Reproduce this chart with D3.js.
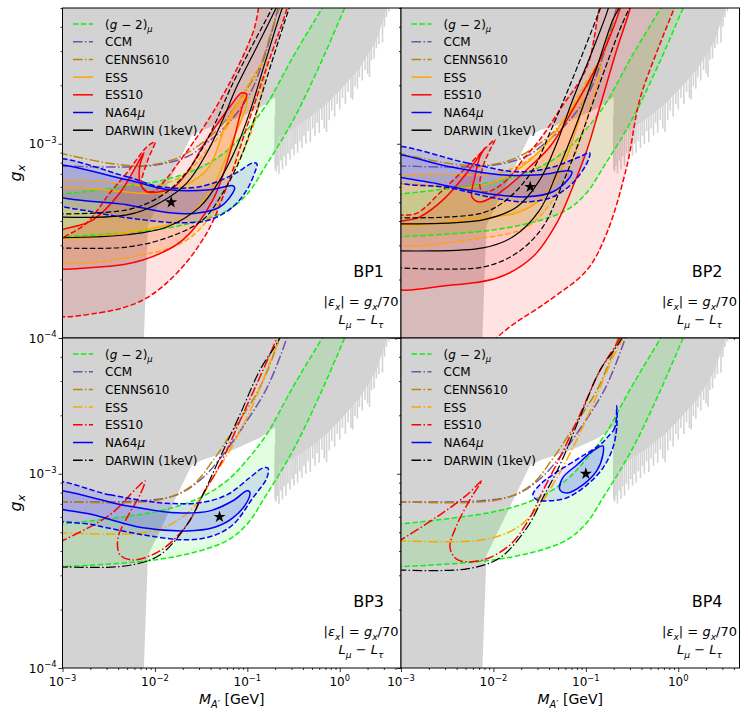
<!DOCTYPE html>
<html>
<head>
<meta charset="utf-8">
<script src="https://cdn.jsdelivr.net/npm/d3@7"></script>
<style>
  body { margin: 0; background: #fff; }
  text { font-family: "DejaVu Sans", sans-serif; fill: #000; }
</style>
</head>
<body>
<svg id="chart" width="748" height="716"></svg>
<script>
// ---- axis settings ----
const xDomain = [1e-3, 4.6];
const yDomain = [1e-4, 5e-3];
const xTickValues = [1e-3, 1e-2, 1e-1, 1];
const xTickExps = ["\u22123", "\u22122", "\u22121", "0"];
const yTickValues = [1e-4, 1e-3];
const yTickExps = ["\u22124", "\u22123"];

// ---- excluded region (grey), same in every panel: [mass GeV, g_x] ----
const bgWhiteEdge = [[7.4e-3, 8e-5], [7.6e-3, 1e-4], [8.4e-3, 3.8e-4], [0.025, 1.11e-3], [0.033, 1.18e-3],
  [0.069, 1.32e-3], [0.136, 1.53e-3], [0.197, 1.73e-3]];
// solid part of the right-hand excluded region, lower envelope
const bgRightBase = [[0.2, 1.08e-3], [0.3, 1.18e-3], [0.47, 1.36e-3], [0.72, 1.6e-3], [1.07, 1.95e-3],
  [1.63, 2.45e-3], [2.49, 3.4e-3], [3.2, 4.9e-3], [3.6, 5.3e-3]];
// downward spikes of that region: [mass, lowest g]
const bgSpikes = [[0.201, 7.4e-4], [0.205, 7.2e-4], [0.212, 7.7e-4], [0.22, 7.0e-4], [0.23, 8.2e-4],
  [0.24, 7.4e-4], [0.25, 8.6e-4], [0.262, 7.7e-4], [0.275, 8.9e-4], [0.29, 8.3e-4], [0.305, 9.4e-4],
  [0.32, 8.7e-4], [0.335, 1.0e-3], [0.35, 9.0e-4], [0.37, 1.03e-3], [0.39, 9.5e-4], [0.41, 1.1e-3],
  [0.43, 1.0e-3], [0.455, 1.16e-3], [0.48, 1.02e-3], [0.51, 1.2e-3], [0.54, 1.1e-3], [0.57, 1.28e-3],
  [0.6, 1.14e-3], [0.64, 1.33e-3], [0.68, 1.2e-3], [0.72, 1.15e-3], [0.77, 1.32e-3], [0.82, 1.48e-3],
  [0.88, 1.38e-3], [0.94, 1.6e-3], [1.0, 1.5e-3], [1.07, 1.72e-3], [1.15, 1.6e-3], [1.23, 1.84e-3],
  [1.32, 1.72e-3], [1.38, 1.69e-3], [1.46, 1.98e-3], [1.55, 1.92e-3], [1.63, 2.2e-3], [1.75, 2.12e-3],
  [1.88, 2.4e-3], [2.0, 2.3e-3], [2.1, 2.21e-3], [2.2, 2.7e-3], [2.35, 2.75e-3], [2.49, 3.1e-3],
  [2.65, 3.25e-3], [2.9, 3.32e-3], [3.05, 4.0e-3], [3.2, 4.5e-3], [3.4, 4.8e-3]];

// ---- (g-2)_mu band ----
const gm2Upper = [[9e-4, 5.5e-4], [1e-3, 5.52e-4], [0.0113, 6.44e-4], [0.0305, 7.52e-4], [0.06, 9.2e-4],
  [0.098, 1.17e-3], [0.161, 1.59e-3], [0.308, 2.77e-3], [0.65, 5.02e-3], [0.9, 6.5e-3]];
const gm2Lower = [[9e-4, 3.31e-4], [1e-3, 3.32e-4], [0.0082, 3.56e-4], [0.0256, 3.92e-4], [0.06, 4.52e-4],
  [0.098, 5.46e-4], [0.161, 7.8e-4], [0.31, 1.31e-3], [0.61, 2.55e-3], [1.13, 5.0e-3], [1.6, 7.3e-3]];

// ---- CCM / CENNS610 ----
const ccmA = [[9e-4, 7.7e-4], [0.0088, 7.7e-4], [0.0222, 8.57e-4], [0.0365, 1.01e-3], [0.06, 1.25e-3],
  [0.106, 1.8e-3], [0.16, 3.0e-3], [0.215, 5.0e-3], [0.24, 6.2e-3]];
const cennsA = [[9e-4, 8.95e-4], [1e-3, 8.88e-4], [3.03e-3, 7.97e-4], [6.89e-3, 7.7e-4], [0.0157, 8.27e-4],
  [0.0284, 9.65e-4], [0.0505, 1.22e-3], [0.083, 1.69e-3], [0.136, 2.49e-3], [0.189, 4.01e-3],
  [0.224, 5.08e-3], [0.25, 6.2e-3]];
const ccmB = [[9e-4, 7.17e-4], [7.42e-3, 7.26e-4], [0.0173, 7.79e-4], [0.033, 9.54e-4], [0.0543, 1.25e-3],
  [0.0988, 1.87e-3], [0.163, 2.77e-3], [0.267, 5.0e-3], [0.3, 6.2e-3]];
const cennsB = [[9e-4, 7.2e-4], [0.0113, 7.34e-4], [0.0258, 8.77e-4], [0.0424, 1.17e-3], [0.0769, 1.79e-3],
  [0.136, 2.77e-3], [0.224, 5.0e-3], [0.26, 6.2e-3]];

// ---- BP1 ----
const bp1EssSolid = [[7e-4, 5.59e-4], [0.0135, 5.66e-4], [0.0365, 7.34e-4], [0.057, 1.21e-3], [0.083, 1.69e-3],
  [0.099, 1.75e-3], [0.097, 1.55e-3], [0.0697, 1.05e-3], [0.0424, 6.01e-4], [0.0222, 4.2e-4],
  [0.0074, 3.6e-4], [7e-4, 3.48e-4]];
const bp1EssDashed = [[7e-4, 6.01e-4], [0.0113, 6.15e-4], [0.0222, 7.09e-4], [0.0365, 9.3e-4], [0.06, 1.22e-3],
  [0.083, 1.69e-3], [0.136, 2.49e-3], [0.167, 2.75e-3], [0.163, 2.55e-3], [0.115, 1.22e-3],
  [0.0697, 7.09e-4], [0.0424, 4.41e-4], [0.0222, 3.2e-4], [0.0074, 2.68e-4], [7e-4, 2.62e-4]];
const bp1Ess10Solid = [[7e-4, 2.38e-4], [2.54e-3, 2.32e-4], [7.42e-3, 2.52e-4], [0.0201, 3.2e-4],
  [0.0424, 5.14e-4], [0.0697, 1.01e-3], [0.0894, 1.59e-3], [0.0988, 1.79e-3], [0.0873, 1.83e-3],
  [0.0647, 1.55e-3], [0.0365, 1.05e-3], [0.0222, 7.09e-4], [0.0157, 5.93e-4], [0.0113, 5.66e-4],
  [8.2e-3, 5.66e-4], [6.9e-3, 6.36e-4], [6.9e-3, 7.79e-4], [7.6e-3, 9.0e-4], [6.2e-3, 7.6e-4],
  [4.19e-3, 5.59e-4], [2.14e-3, 4.06e-4], [7e-4, 3.3e-4]];
const bp1Ess10Dashed = [[7e-4, 1.36e-4], [2.54e-3, 1.35e-4], [7.42e-3, 1.57e-4], [0.0173, 2.16e-4],
  [0.0365, 3.48e-4], [0.06, 6.01e-4], [0.0988, 1.22e-3], [0.163, 2.49e-3], [0.267, 4.91e-3], [0.33, 7e-3],
  [0.17, 7e-3], [0.115, 3.73e-3], [0.0697, 2.21e-3], [0.0424, 1.45e-3], [0.0258, 1.01e-3],
  [0.0173, 7.79e-4], [0.0122, 6.29e-4], [9.3e-3, 5.66e-4], [7.2e-3, 6.01e-4], [8.4e-3, 8.27e-4],
  [0.01, 1.02e-3], [8.2e-3, 9.65e-4], [4.98e-3, 7.09e-4], [3.26e-3, 5.59e-4], [1.84e-3, 3.92e-4],
  [7e-4, 2.8e-4]];
const bp1Na64Dashed = [[7e-4, 8.2e-4], [4.98e-3, 6.76e-4], [0.0113, 6.01e-4], [0.0306, 6.01e-4],
  [0.0697, 6.92e-4], [0.115, 7.97e-4], [0.127, 7.88e-4], [0.12, 7.09e-4], [0.0988, 5.79e-4],
  [0.0697, 4.73e-4], [0.0393, 4.06e-4], [0.0201, 3.92e-4], [7.42e-3, 4.06e-4], [2.14e-3, 4.46e-4],
  [7e-4, 5.2e-4]];
const bp1Na64Solid = [[7e-4, 7.6e-4], [4.98e-3, 6.52e-4], [0.0145, 5.79e-4], [0.0393, 5.79e-4],
  [0.0697, 6.08e-4], [0.073, 5.93e-4], [0.0697, 5.59e-4], [0.0505, 4.73e-4], [0.0306, 4.41e-4],
  [0.0145, 4.41e-4], [4.98e-3, 4.85e-4], [7e-4, 5.7e-4]];
const bp1DarwinSolid = [
  [[9e-4, 4.2e-4], [4.98e-3, 4.3e-4], [0.0113, 4.97e-4], [0.0222, 6.29e-4], [0.0365, 8.99e-4],
    [0.0543, 1.33e-3], [0.0769, 1.97e-3], [0.127, 3.16e-3], [0.208, 5.08e-3], [0.25, 6.2e-3]],
  [[9e-4, 3.28e-4], [4.98e-3, 3.4e-4], [0.0135, 3.73e-4], [0.0306, 4.73e-4], [0.0505, 6.52e-4],
    [0.0769, 9.65e-4], [0.106, 1.45e-3], [0.159, 2.71e-3], [0.242, 5.08e-3], [0.29, 6.2e-3]]];
const bp1DarwinDashed = [
  [[9e-4, 4.35e-4], [4.98e-3, 4.57e-4], [0.0113, 5.33e-4], [0.0201, 6.76e-4], [0.0306, 8.99e-4],
    [0.0468, 1.33e-3], [0.0647, 1.9e-3], [0.109, 3.1e-3], [0.189, 5.08e-3], [0.23, 6.2e-3]],
  [[9e-4, 2.91e-4], [4.98e-3, 2.94e-4], [0.0145, 3.32e-4], [0.033, 4.06e-4], [0.0543, 5.59e-4],
    [0.083, 8.27e-4], [0.115, 1.28e-3], [0.18, 2.55e-3], [0.288, 5.08e-3], [0.34, 6.2e-3]]];

// ---- BP2 ----
const bp2EssSolid = [[7e-4, 5.93e-4], [5.17e-3, 5.93e-4], [0.0117, 6.52e-4], [0.023, 7.97e-4], [0.0408, 1.05e-3],
  [0.0723, 1.55e-3], [0.09, 1.75e-3], [0.093, 1.65e-3], [0.0723, 1.05e-3], [0.0524, 7.09e-4],
  [0.0318, 5.14e-4], [0.0179, 4.41e-4], [7.7e-3, 4.16e-4], [7e-4, 4.06e-4]];
const bp2EssDashed = [[7e-4, 6.29e-4], [0.0117, 7.09e-4], [0.0267, 8.57e-4], [0.0524, 1.22e-3], [0.0861, 1.83e-3],
  [0.132, 2.55e-3], [0.142, 2.62e-3], [0.145, 2.45e-3], [0.11, 1.5e-3], [0.0723, 8.27e-4], [0.044, 5.14e-4],
  [0.023, 3.73e-4], [7.7e-3, 3.28e-4], [7e-4, 3.2e-4]];
const bp2Ess10Solid = [[7e-4, 1.87e-4], [3.39e-3, 1.87e-4], [0.0117, 2.06e-4], [0.0267, 2.62e-4],
  [0.0486, 3.92e-4], [0.0723, 6.01e-4], [0.103, 9.31e-4], [0.142, 1.55e-3], [0.216, 3.05e-3],
  [0.299, 4.91e-3], [0.34, 6.5e-3], [0.27, 6.5e-3], [0.233, 4.91e-3], [0.142, 2.71e-3], [0.0723, 1.5e-3],
  [0.0408, 9.65e-4], [0.0248, 7.61e-4], [0.0151, 6.15e-4], [9.9e-3, 5.33e-4], [7.15e-3, 5.02e-4],
  [5.86e-3, 5.33e-4], [6.31e-3, 6.76e-4], [7.15e-3, 8.57e-4], [8.1e-3, 9.54e-4], [5.17e-3, 7.09e-4],
  [2.85e-3, 5.14e-4], [1.6e-3, 4.2e-4], [7e-4, 3.7e-4]];
const bp2Ess10Dashed = [[7e-4, 4.0e-4], [7e-4, 4e-5], [3.8e-3, 6e-5], [0.0127, 1.07e-4], [0.0408, 1.57e-4],
  [0.103, 2.24e-4], [0.169, 3.48e-4], [0.277, 7.61e-4], [0.384, 1.69e-3], [0.63, 3.24e-3], [0.92, 5.1e-3],
  [1.1, 6.5e-3], [0.17, 6.5e-3], [0.142, 5.1e-3], [0.103, 2.49e-3], [0.0524, 1.5e-3], [0.0318, 1.05e-3],
  [0.0208, 8.27e-4], [0.0151, 6.76e-4], [9.9e-3, 5.79e-4], [7.7e-3, 5.66e-4], [7.15e-3, 6.01e-4],
  [7.7e-3, 7.61e-4], [9.2e-3, 9.31e-4], [0.0104, 1.05e-3], [8.5e-3, 9.65e-4], [5.17e-3, 7.61e-4],
  [2.64e-3, 5.59e-4], [1.51e-3, 4.41e-4]];
const bp2Na64Dashed = [[7e-4, 9.5e-4], [5.17e-3, 7.97e-4], [0.0179, 7.17e-4], [0.0408, 7.52e-4],
  [0.0861, 8.57e-4], [0.11, 8.99e-4], [0.103, 7.97e-4], [0.0723, 6.29e-4], [0.044, 5.33e-4],
  [0.023, 5.02e-4], [9.9e-3, 5.27e-4], [3.39e-3, 5.93e-4], [7e-4, 6.7e-4]];
const bp2Na64Solid = [[7e-4, 8.7e-4], [3.39e-3, 7.61e-4], [0.0117, 6.92e-4], [0.0318, 6.92e-4],
  [0.0623, 7.26e-4], [0.0706, 7.17e-4], [0.0639, 6.52e-4], [0.044, 5.66e-4], [0.023, 5.33e-4],
  [7.7e-3, 5.59e-4], [2.22e-3, 6.29e-4], [7e-4, 7.2e-4]];
const bp2DarwinSolid = [
  [[9e-4, 3.87e-4], [7.7e-3, 4.06e-4], [0.0179, 4.73e-4], [0.0318, 6.52e-4], [0.0486, 1.01e-3],
    [0.0723, 1.69e-3], [0.119, 3.05e-3], [0.169, 4.73e-3], [0.2, 6.2e-3]],
  [[9e-4, 2.81e-4], [7.7e-3, 2.91e-4], [0.0163, 3.32e-4], [0.0318, 4.57e-4], [0.0486, 7.09e-4],
    [0.08, 1.28e-3], [0.132, 2.49e-3], [0.196, 4.35e-3], [0.233, 5.08e-3], [0.27, 6.2e-3]]];
const bp2DarwinDashed = [
  [[9e-4, 4.16e-4], [7.7e-3, 4.41e-4], [0.0151, 5.33e-4], [0.0267, 7.34e-4], [0.0408, 1.14e-3],
    [0.0623, 1.83e-3], [0.103, 3.32e-3], [0.142, 4.91e-3], [0.17, 6.2e-3]],
  [[9e-4, 2.3e-4], [7.7e-3, 2.32e-4], [0.0179, 2.74e-4], [0.0343, 3.73e-4], [0.0564, 6.29e-4],
    [0.0861, 1.05e-3], [0.142, 2.06e-3], [0.233, 3.87e-3], [0.299, 5.08e-3], [0.35, 6.2e-3]]];

// ---- BP3 ----
const bp3Ess = [[9e-4, 4.97e-4], [7.42e-3, 4.97e-4], [0.0145, 5.46e-4], [0.0258, 6.68e-4], [0.0424, 9.54e-4],
  [0.0697, 1.41e-3], [0.115, 2.27e-3], [0.189, 4.1e-3], [0.224, 5e-3], [0.25, 6.2e-3]];
const bp3Ess10 = [[9e-4, 4.4e-4], [1e-3, 4.52e-4], [3.26e-3, 6.15e-4], [6.38e-3, 8.47e-4], [7.8e-3, 9.2e-4],
  [6.89e-3, 7.79e-4], [4.98e-3, 5.93e-4], [3.98e-3, 4.68e-4], [4.19e-3, 3.82e-4], [5.78e-3, 3.6e-4],
  [0.0113, 4.01e-4], [0.0222, 5.46e-4], [0.033, 7.79e-4], [0.0505, 1.11e-3], [0.083, 1.87e-3],
  [0.136, 3.13e-3], [0.208, 5e-3], [0.24, 6.2e-3]];
const bp3Darwin = [[9e-4, 3.32e-4], [4.98e-3, 3.36e-4], [0.0113, 3.82e-4], [0.0222, 5.46e-4], [0.033, 7.79e-4],
  [0.0505, 1.21e-3], [0.083, 2.01e-3], [0.136, 3.4e-3], [0.224, 5e-3], [0.26, 6.2e-3]];
const bp3Na64Dashed = [[7e-4, 9.0e-4], [3.26e-3, 7.79e-4], [0.0113, 7.09e-4], [0.0306, 7.09e-4], [0.06, 7.79e-4],
  [0.106, 9.54e-4], [0.147, 1.07e-3], [0.167, 1.07e-3], [0.163, 9.54e-4], [0.115, 7.52e-4],
  [0.0697, 5.46e-4], [0.0424, 4.79e-4], [0.0222, 4.57e-4], [7.42e-3, 4.85e-4], [2.14e-3, 5.46e-4],
  [7e-4, 6.1e-4]];
const bp3Na64Solid = [[7e-4, 8.1e-4], [4.98e-3, 6.84e-4], [0.0173, 6.29e-4], [0.0393, 6.44e-4], [0.0697, 7.26e-4],
  [0.0988, 8.17e-4], [0.106, 8.07e-4], [0.101, 7.26e-4], [0.0697, 5.93e-4], [0.0424, 5.27e-4],
  [0.0222, 5.08e-4], [7.42e-3, 5.27e-4], [2.14e-3, 6.15e-4], [7e-4, 7.0e-4]];

// ---- BP4 ----
const bp4Ess = [[9e-4, 4.52e-4], [7.7e-3, 4.57e-4], [0.0179, 5.27e-4], [0.0318, 6.92e-4], [0.0486, 9.54e-4],
  [0.0723, 1.36e-3], [0.119, 2.27e-3], [0.196, 3.96e-3], [0.251, 5e-3], [0.28, 6.2e-3]];
const bp4Ess10 = [[9e-4, 4.45e-4], [1e-3, 4.57e-4], [2.64e-3, 6.15e-4], [5.17e-3, 7.79e-4], [7.51e-3, 9.2e-4],
  [6.0e-3, 7.79e-4], [4.03e-3, 5.46e-4], [3.39e-3, 4.16e-4], [4.13e-3, 3.6e-4], [7.7e-3, 3.6e-4],
  [0.0151, 4.3e-4], [0.0248, 5.93e-4], [0.0343, 8.17e-4], [0.0524, 1.21e-3], [0.0861, 2.01e-3],
  [0.142, 3.4e-3], [0.233, 5e-3], [0.27, 6.2e-3]];
const bp4Darwin = [[9e-4, 3.2e-4], [5.17e-3, 3.24e-4], [0.0117, 3.69e-4], [0.023, 5.27e-4], [0.0343, 7.52e-4],
  [0.0524, 1.11e-3], [0.0861, 1.95e-3], [0.142, 3.4e-3], [0.245, 5e-3], [0.28, 6.2e-3]];
const bp4Na64Dashed = [[0.216, 2.24e-3], [0.206, 1.73e-3], [0.169, 1.53e-3], [0.142, 1.41e-3], [0.0861, 1.21e-3],
  [0.044, 9.9e-4], [0.0318, 8.77e-4], [0.0267, 7.79e-4], [0.0295, 7.34e-4], [0.0408, 7.26e-4],
  [0.0623, 7.52e-4], [0.103, 8.77e-4], [0.153, 1.07e-3], [0.196, 1.36e-3], [0.216, 1.73e-3]];
const bp4Na64Solid = [[0.153, 1.39e-3], [0.119, 1.31e-3], [0.08, 1.11e-3], [0.0564, 9.54e-4], [0.0524, 8.27e-4],
  [0.0623, 7.97e-4], [0.0929, 8.77e-4], [0.132, 1.04e-3], [0.153, 1.25e-3]];

// benchmark points
const bpStars = [[0.015, 5e-4], [0.025, 6e-4], [0.05, 6e-4], [0.1, 1e-3]];
const bpLabels = ["BP1", "BP2", "BP3", "BP4"];

// ---- styles ----
const COLORS = { gm2: "#11ee11", ccm: "#7750a8", cenns: "#b8860b", ess: "#ffa500",
  ess10: "#ff0000", na64: "#0000ff", darwin: "#000000" };
const GREY = "#d3d3d3";
const DASH = "5.5,2.4";
const DASHDOT = "9.6,2.4,1.5,2.4";

// ---- layout ----
const pw = 338.5, ph = 330;
const panels = [
  { left: 62.5, top: 8, mode: "fit", ccm: ccmA, cenns: cennsA,
    essSolid: bp1EssSolid, essDashed: bp1EssDashed, ess10Solid: bp1Ess10Solid, ess10Dashed: bp1Ess10Dashed,
    na64Solid: bp1Na64Solid, na64Dashed: bp1Na64Dashed, darwinSolid: bp1DarwinSolid, darwinDashed: bp1DarwinDashed },
  { left: 401, top: 8, mode: "fit", ccm: ccmA, cenns: cennsA,
    essSolid: bp2EssSolid, essDashed: bp2EssDashed, ess10Solid: bp2Ess10Solid, ess10Dashed: bp2Ess10Dashed,
    na64Solid: bp2Na64Solid, na64Dashed: bp2Na64Dashed, darwinSolid: bp2DarwinSolid, darwinDashed: bp2DarwinDashed },
  { left: 62.5, top: 338, mode: "proj", ccm: ccmB, cenns: cennsB,
    ess: bp3Ess, ess10: bp3Ess10, darwin: bp3Darwin, na64Solid: bp3Na64Solid, na64Dashed: bp3Na64Dashed },
  { left: 401, top: 338, mode: "proj", ccm: ccmB, cenns: cennsB,
    ess: bp4Ess, ess10: bp4Ess10, darwin: bp4Darwin, na64Solid: bp4Na64Solid, na64Dashed: bp4Na64Dashed }
];

const x = d3.scaleLog().domain(xDomain).range([0, pw]);
const y = d3.scaleLog().domain(yDomain).range([ph, 0]);

const lineOpen = d3.line().x(d => x(d[0])).y(d => y(d[1])).curve(d3.curveCatmullRom.alpha(0.5));
const lineClosed = d3.line().x(d => x(d[0])).y(d => y(d[1])).curve(d3.curveCatmullRomClosed.alpha(0.5));
const lineLinear = d3.line().x(d => x(d[0])).y(d => y(d[1]));

const svg = d3.select("#chart");
const defs = svg.append("defs");

// text with italic / subscript / superscript pieces
function rich(textSel, parts, size) {
  let shift = 0;
  parts.forEach(pt => {
    const ts = textSel.append("tspan").text(pt.t);
    if (pt.i) ts.attr("font-style", "italic");
    const target = pt.sub ? size * 0.28 : pt.sup ? -size * 0.42 : 0;
    if (target !== shift) {
      ts.attr("dy", target - shift);
      shift = target;
    }
    if (pt.sub || pt.sup) ts.attr("font-size", size * 0.7);
  });
}

const legendItems = [
  { key: "gm2", parts: [{ t: "(" }, { t: "g", i: 1 }, { t: " \u2212 2)" }, { t: "\u03bc", i: 1, sub: 1 }] },
  { key: "ccm", parts: [{ t: "CCM" }] },
  { key: "cenns", parts: [{ t: "CENNS610" }] },
  { key: "ess", parts: [{ t: "ESS" }] },
  { key: "ess10", parts: [{ t: "ESS10" }] },
  { key: "na64", parts: [{ t: "NA64" }, { t: "\u03bc", i: 1 }] },
  { key: "darwin", parts: [{ t: "DARWIN (1keV)" }] }
];
const legendDash = {
  fit: { gm2: DASH, ccm: DASHDOT, cenns: DASHDOT, ess: null, ess10: null, na64: null, darwin: null },
  proj: { gm2: DASH, ccm: DASHDOT, cenns: DASHDOT, ess: DASHDOT, ess10: DASHDOT, na64: null, darwin: DASHDOT }
};

function stroke(sel, color, dash) {
  sel.attr("fill", "none").attr("stroke", color).attr("stroke-width", 1.5);
  if (dash) sel.attr("stroke-dasharray", dash);
  return sel;
}

panels.forEach((p, i) => {
  const g = svg.append("g").attr("transform", `translate(${p.left},${p.top})`);
  defs.append("clipPath").attr("id", "clip" + i)
    .append("rect").attr("width", pw).attr("height", ph);
  const plot = g.append("g").attr("clip-path", `url(#clip${i})`);

  // grey excluded region with its spiky lower edge
  const bg = [[5e-4, 8e-3], [5e-4, 8e-5], ...bgWhiteEdge, [0.2, 1.73e-3], ...bgRightBase, [3.6, 8e-3]];
  plot.append("path").attr("d", lineLinear(bg) + "Z").attr("fill", GREY);
  plot.append("path").attr("d", lineLinear([[0.197, 1.2e-3], [0.197, 7.4e-4], [0.203, 7.4e-4], [0.203, 1.2e-3]]) + "Z")
    .attr("fill", GREY);
  plot.selectAll("line.spike").data(bgSpikes).join("line")
    .attr("class", "spike")
    .attr("x1", d => x(d[0])).attr("x2", d => x(d[0]))
    .attr("y1", d => y(d[1])).attr("y2", d => y(d[1] * 1.9))
    .attr("stroke", GREY).attr("stroke-width", 1.6);

  // g-2 band fill
  const band = lineOpen(gm2Upper) + lineOpen(gm2Lower.slice().reverse()).replace(/^M/, "L") + "Z";
  plot.append("path").attr("d", band).attr("fill", COLORS.gm2).attr("fill-opacity", 0.12);

  if (p.mode === "fit") {
    [[p.ess10Dashed, "ess10", 0.11], [p.ess10Solid, "ess10", 0.11], [p.essDashed, "ess", 0.13],
      [p.essSolid, "ess", 0.13], [p.na64Dashed, "na64", 0.1], [p.na64Solid, "na64", 0.1]]
      .forEach(([pts, key, op]) => {
        plot.append("path").attr("d", lineClosed(pts)).attr("fill", COLORS[key]).attr("fill-opacity", op);
      });
  } else {
    [p.na64Dashed, p.na64Solid].forEach(pts => {
      plot.append("path").attr("d", lineClosed(pts)).attr("fill", COLORS.na64).attr("fill-opacity", 0.1);
    });
  }

  // lines
  [gm2Upper, gm2Lower].forEach(pts => stroke(plot.append("path").attr("d", lineOpen(pts)), COLORS.gm2, DASH));
  stroke(plot.append("path").attr("d", lineOpen(p.ccm)), COLORS.ccm, DASHDOT);
  stroke(plot.append("path").attr("d", lineOpen(p.cenns)), COLORS.cenns, DASHDOT);

  if (p.mode === "fit") {
    stroke(plot.append("path").attr("d", lineClosed(p.essDashed)), COLORS.ess, DASH);
    stroke(plot.append("path").attr("d", lineClosed(p.essSolid)), COLORS.ess, null);
    stroke(plot.append("path").attr("d", lineClosed(p.ess10Dashed)), COLORS.ess10, DASH);
    stroke(plot.append("path").attr("d", lineClosed(p.ess10Solid)), COLORS.ess10, null);
    stroke(plot.append("path").attr("d", lineClosed(p.na64Dashed)), COLORS.na64, DASH);
    stroke(plot.append("path").attr("d", lineClosed(p.na64Solid)), COLORS.na64, null);
    p.darwinDashed.forEach(pts => stroke(plot.append("path").attr("d", lineOpen(pts)), COLORS.darwin, DASH).attr("stroke-width", 1.2));
    p.darwinSolid.forEach(pts => stroke(plot.append("path").attr("d", lineOpen(pts)), COLORS.darwin, null).attr("stroke-width", 1.2));
  } else {
    stroke(plot.append("path").attr("d", lineOpen(p.ess)), COLORS.ess, DASHDOT);
    stroke(plot.append("path").attr("d", lineOpen(p.ess10)), COLORS.ess10, DASHDOT);
    stroke(plot.append("path").attr("d", lineClosed(p.na64Dashed)), COLORS.na64, DASH);
    stroke(plot.append("path").attr("d", lineClosed(p.na64Solid)), COLORS.na64, null);
    stroke(plot.append("path").attr("d", lineOpen(p.darwin)), COLORS.darwin, DASHDOT).attr("stroke-width", 1.2);
  }

  // benchmark star
  plot.append("path")
    .attr("d", d3.symbol().type(d3.symbolStar).size(46)())
    .attr("transform", `translate(${x(bpStars[i][0])},${y(bpStars[i][1])})`)
    .attr("fill", "#000");

  // legend
  legendItems.forEach((item, k) => {
    const ly = 16 + k * 17.7;
    stroke(g.append("line").attr("x1", 10.5).attr("x2", 30.5).attr("y1", ly).attr("y2", ly),
      COLORS[item.key], legendDash[p.mode][item.key]);
    const t = g.append("text").attr("x", 42.5).attr("y", ly + 4.5).attr("font-size", 12);
    rich(t, item.parts, 12);
  });

  // annotations
  g.append("text").attr("x", pw - 17).attr("y", 269).attr("text-anchor", "end")
    .attr("font-size", 16).text(bpLabels[i]);
  rich(g.append("text").attr("x", pw - 40).attr("y", 298).attr("text-anchor", "middle").attr("font-size", 13),
    [{ t: "|" }, { t: "\u03b5", i: 1 }, { t: "x", i: 1, sub: 1 }, { t: "| = " }, { t: "g", i: 1 },
      { t: "x", i: 1, sub: 1 }, { t: "/70" }], 13);
  rich(g.append("text").attr("x", pw - 40).attr("y", 316).attr("text-anchor", "middle").attr("font-size", 13),
    [{ t: "L", i: 1 }, { t: "\u03bc", i: 1, sub: 1 }, { t: " \u2212 " }, { t: "L", i: 1 }, { t: "\u03c4", i: 1, sub: 1 }], 13);

  // axes
  const isMajor = v => Math.abs(Math.log10(v) - Math.round(Math.log10(v))) < 1e-6;
  const yMinor = y.ticks().filter(v => !isMajor(v));
  const xMinor = x.ticks().filter(v => !isMajor(v));
  const tidy = a => { a.select(".domain").remove(); a.selectAll("line").attr("stroke-width", 0.8); };
  g.append("g").call(d3.axisLeft(y).tickValues(yTickValues).tickSize(4).tickFormat("")).call(tidy);
  g.append("g").call(d3.axisLeft(y).tickValues(yMinor).tickSize(2).tickFormat("")).call(tidy);
  g.append("g").attr("transform", `translate(0,${ph})`)
    .call(d3.axisBottom(x).tickValues(xTickValues).tickSize(4).tickFormat("")).call(tidy);
  g.append("g").attr("transform", `translate(0,${ph})`)
    .call(d3.axisBottom(x).tickValues(xMinor).tickSize(2).tickFormat("")).call(tidy);

  g.append("rect").attr("width", pw).attr("height", ph)
    .attr("fill", "none").attr("stroke", "#000").attr("stroke-width", 1);

  if (i % 2 === 0) {
    yTickValues.forEach((v, k) => {
      const t = g.append("text").attr("x", -6).attr("y", y(v) + 4.5)
        .attr("text-anchor", "end").attr("font-size", 12);
      rich(t, [{ t: "10" }, { t: yTickExps[k], sup: 1 }], 12);
    });
    const yl = g.append("text").attr("transform", `translate(-42,${ph / 2}) rotate(-90)`)
      .attr("text-anchor", "middle").attr("font-size", 16);
    rich(yl, [{ t: "g", i: 1 }, { t: "x", i: 1, sub: 1 }], 16);
  }
  if (i >= 2) {
    xTickValues.forEach((v, k) => {
      const t = g.append("text").attr("x", x(v)).attr("y", ph + 18)
        .attr("text-anchor", "middle").attr("font-size", 12);
      rich(t, [{ t: "10" }, { t: xTickExps[k], sup: 1 }], 12);
    });
    const xl = g.append("text").attr("x", pw / 2).attr("y", ph + 36)
      .attr("text-anchor", "middle").attr("font-size", 14);
    rich(xl, [{ t: "M", i: 1 }, { t: "A\u2032", i: 1, sub: 1 }, { t: " [GeV]" }], 14);
  }
});
</script>
</body>
</html>
